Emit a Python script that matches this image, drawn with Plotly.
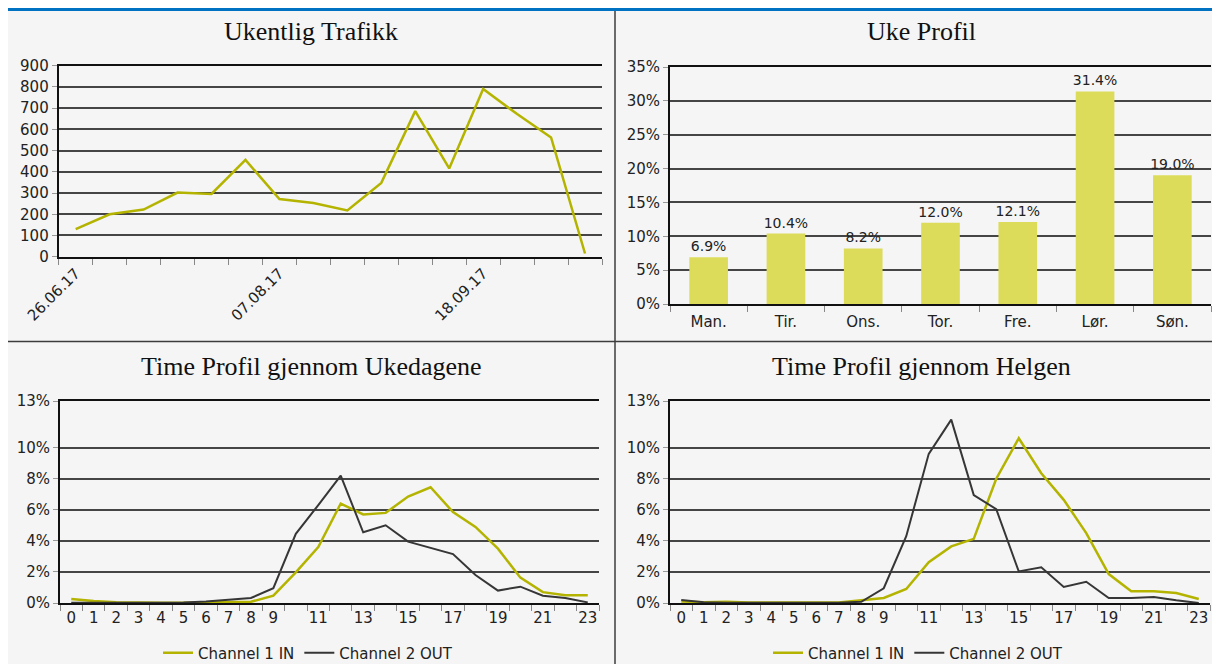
import plotly.graph_objects as go

# ---------------- data ----------------
week_dates = ["26.06.17", "03.07.17", "10.07.17", "17.07.17", "24.07.17", "31.07.17",
              "07.08.17", "14.08.17", "21.08.17", "28.08.17", "04.09.17", "11.09.17",
              "18.09.17", "25.09.17", "02.10.17", "09.10.17"]
week_traffic = [130, 200, 222, 302, 296, 456, 272, 253, 218, 348, 686, 416, 790, 672, 562, 15]
week_labels_shown = ["26.06.17", "07.08.17", "18.09.17"]

days = ["Man.", "Tir.", "Ons.", "Tor.", "Fre.", "Lør.", "Søn."]
day_share = [6.9, 10.4, 8.2, 12.0, 12.1, 31.4, 19.0]

hours = [str(h) for h in range(24)]
hour_labels = ["0", "1", "2", "3", "4", "5", "6", "7", "8", "9", "", "11", "", "13", "", "15",
               "", "17", "", "19", "", "21", "", "23"]
weekday_in = [0.26, 0.13, 0.05, 0.02, 0.02, 0.02, 0.03, 0.05, 0.08, 0.47, 1.97, 3.6, 6.4, 5.7,
              5.8, 6.85, 7.45, 5.85, 4.9, 3.5, 1.63, 0.7, 0.5, 0.5]
weekday_out = [0.02, 0.03, 0.03, 0.03, 0.03, 0.03, 0.1, 0.2, 0.32, 0.95, 4.45, 6.3, 8.2, 4.55,
               5.0, 3.95, 3.55, 3.15, 1.8, 0.8, 1.05, 0.47, 0.32, 0.04]
weekend_in = [0.1, 0.05, 0.08, 0.03, 0.03, 0.03, 0.03, 0.03, 0.17, 0.32, 0.9, 2.63, 3.64, 4.13,
              8.0, 10.6, 8.35, 6.64, 4.5, 1.86, 0.75, 0.75, 0.64, 0.26]
weekend_out = [0.2, 0.05, 0.02, 0.02, 0.02, 0.02, 0.02, 0.02, 0.08, 0.95, 4.3, 9.6, 11.8, 6.94,
               6.04, 2.03, 2.3, 1.03, 1.37, 0.32, 0.32, 0.38, 0.17, 0.0]
pct_ticks = [0, 2, 4, 6, 8, 10, 13]

titles = ["Ukentlig Trafikk", "Uke Profil", "Time Profil gjennom Ukedagene", "Time Profil gjennom Helgen"]
series_names = ["Channel 1 IN", "Channel 2 OUT"]

# ---------------- style ----------------
W, H = 1212, 664
BG = "#f5f5f5"
YELLOW = "#b4b400"
DARK = "#363636"
BAR = "#dcdc5a"
FONTFAM = "DejaVu Sans, Verdana, sans-serif"
TICKFONT = dict(family=FONTFAM, size=15, color="#222")
BARFONT = dict(family=FONTFAM, size=14, color="#222")
GRID = "#454545"


def px_x(v):
    return v / W


def px_y(v):
    return 1 - v / H


fig = go.Figure()

# top-left: weekly traffic
fig.add_trace(go.Scatter(x=week_dates, y=week_traffic, mode="lines",
                         line=dict(color=YELLOW, width=2.5), showlegend=False,
                         xaxis="x", yaxis="y"))
# top-right: week profile
fig.add_trace(go.Bar(x=days, y=day_share, marker=dict(color=BAR, line=dict(width=0)),
                     width=0.5, text=[f"{v:.1f}%" for v in day_share], textposition="outside",
                     constraintext="none", textfont=BARFONT, cliponaxis=False, showlegend=False,
                     xaxis="x2", yaxis="y2"))
# bottom-left: weekday hourly
fig.add_trace(go.Scatter(x=hours, y=weekday_in, mode="lines", name=series_names[0],
                         line=dict(color=YELLOW, width=2.5), xaxis="x3", yaxis="y3", legend="legend"))
fig.add_trace(go.Scatter(x=hours, y=weekday_out, mode="lines", name=series_names[1],
                         line=dict(color=DARK, width=2), xaxis="x3", yaxis="y3", legend="legend"))
# bottom-right: weekend hourly
fig.add_trace(go.Scatter(x=hours, y=weekend_in, mode="lines", name=series_names[0],
                         line=dict(color=YELLOW, width=2.5), xaxis="x4", yaxis="y4", legend="legend2"))
fig.add_trace(go.Scatter(x=hours, y=weekend_out, mode="lines", name=series_names[1],
                         line=dict(color=DARK, width=2), xaxis="x4", yaxis="y4", legend="legend2"))

common_x = dict(type="category", tickson="boundaries", ticks="outside", ticklen=6, tickwidth=1,
                tickcolor="#888", showline=True, linecolor="#111", linewidth=2, showgrid=False,
                tickfont=TICKFONT, fixedrange=True, zeroline=False, automargin=False)
common_y = dict(ticks="outside", ticklen=5, tickcolor="#999", showline=True, linecolor="#111",
                linewidth=2, showgrid=True, gridcolor=GRID, gridwidth=1.5, tickfont=TICKFONT,
                zeroline=False, fixedrange=True, automargin=False)

legend_font = dict(family=FONTFAM, size=15, color="#222")
layout = dict(
    width=W, height=H, margin=dict(l=0, r=0, t=0, b=0, autoexpand=False),
    paper_bgcolor=BG, plot_bgcolor=BG,
    xaxis=dict(**common_x, domain=[px_x(58.7), px_x(602)], anchor="y", mirror=True,
               tickvals=week_dates,
               ticktext=[d if d in week_labels_shown else "" for d in week_dates],
               tickangle=-45, range=[-0.5, len(week_dates) - 0.5]),
    yaxis=dict(**common_y, domain=[px_y(256.7), px_y(65.7)], anchor="x", range=[0, 900], dtick=100),
    xaxis2=dict(**common_x, domain=[px_x(670), px_x(1211)], anchor="y2", mirror=True,
                range=[-0.5, len(days) - 0.5], ticklabelstandoff=3),
    yaxis2=dict(**common_y, domain=[px_y(304), px_y(67)], anchor="x2", range=[0, 35], dtick=5,
                ticksuffix="%"),
    xaxis3=dict(**common_x, domain=[px_x(60), px_x(599)], anchor="y3", mirror=True,
                tickvals=hours, ticktext=hour_labels, tickangle=0, range=[-0.5, 23.5]),
    yaxis3=dict(**common_y, domain=[px_y(603), px_y(401)], anchor="x3", range=[0, 13],
                tickvals=pct_ticks, ticktext=[f"{v}%" for v in pct_ticks]),
    xaxis4=dict(**common_x, domain=[px_x(670), px_x(1210)], anchor="y4", mirror=True,
                tickvals=hours, ticktext=hour_labels, tickangle=0, range=[-0.5, 23.5]),
    yaxis4=dict(**common_y, domain=[px_y(603), px_y(401)], anchor="x4", range=[0, 13],
                tickvals=pct_ticks, ticktext=[f"{v}%" for v in pct_ticks]),
    legend=dict(orientation="h", x=px_x(308), xanchor="center", y=px_y(653), yanchor="middle",
                font=legend_font, bgcolor="rgba(0,0,0,0)", itemwidth=30, tracegroupgap=0),
    legend2=dict(orientation="h", x=px_x(918), xanchor="center", y=px_y(653), yanchor="middle",
                 font=legend_font, bgcolor="rgba(0,0,0,0)", itemwidth=30, tracegroupgap=0),
)
fig.update_layout(**layout)

# titles
title_pos = [(311, 31), (921, 31), (311, 366), (921, 366)]
for t, (cx, cy) in zip(titles, title_pos):
    fig.add_annotation(text=t, x=px_x(cx), y=px_y(cy), xref="paper", yref="paper",
                       xanchor="center", yanchor="middle", showarrow=False,
                       font=dict(family="Liberation Serif, Times New Roman, serif", size=26, color="#111"))

# frame: white margins, blue header rule and panel dividers
shapes = [
    dict(type="rect", xref="paper", yref="paper", x0=0, x1=px_x(8), y0=0, y1=1,
         fillcolor="white", line=dict(width=0), layer="above"),
    dict(type="rect", xref="paper", yref="paper", x0=0, x1=1, y0=px_y(8), y1=1,
         fillcolor="white", line=dict(width=0), layer="above"),
    dict(type="rect", xref="paper", yref="paper", x0=px_x(8), x1=1, y0=px_y(11), y1=px_y(8),
         fillcolor="#0072c2", line=dict(width=0), layer="above"),
    dict(type="line", xref="paper", yref="paper", x0=px_x(615), x1=px_x(615), y0=0, y1=px_y(11),
         line=dict(color="#3c3c3c", width=1.5), layer="above"),
    dict(type="line", xref="paper", yref="paper", x0=px_x(8), x1=1, y0=px_y(341.5), y1=px_y(341.5),
         line=dict(color="#3c3c3c", width=1.5), layer="above"),
]
fig.update_layout(shapes=shapes)

fig.write_html("out.html", config={"displayModeBar": False},
               post_script="document.body.style.margin='0';document.body.style.overflow='hidden';")
